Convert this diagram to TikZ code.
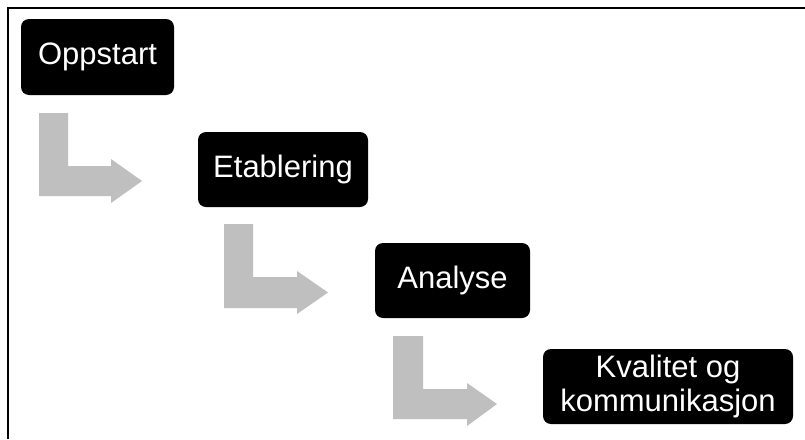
\documentclass[tikz,border=0pt]{standalone}
\usepackage{fontspec}
\setmainfont{Liberation Sans}
\definecolor{arrowgray}{HTML}{BFBFBF}
\begin{document}
\begin{tikzpicture}[x=1pt,y=-1pt,
  stepbox/.style={fill=black,rounded corners=8pt,text=white,inner sep=0pt,
    minimum height=75pt,align=center,font=\fontsize{31}{34}\selectfont},
  larrow/.style={fill=arrowgray,draw=none}]
\useasboundingbox (0,0) rectangle (805,439);
\fill[white] (0,0) rectangle (805,439);
\draw[line width=2pt] (7.5,439) -- (7.5,7.5) -- (805,7.5);

\node[stepbox,minimum width=153pt,minimum height=76pt] (s1) at (97.5,57) {Oppstart};
\node[stepbox,minimum width=170pt] (s2) at (283,169.5) {Etablering};
\node[stepbox,minimum width=155pt] (s3) at (452.5,280.5) {Analyse};
\node[stepbox,minimum width=250pt] (s4) at (668,386.5) {Kvalitet og\\kommunikasjon};

\fill[larrow] (39,113) -- (68,113) -- (68,166) -- (111,166) -- (111,159) -- (142,181) -- (111,203) -- (111,196) -- (39,196) -- cycle;
\fill[larrow] (224,224) -- (253,224) -- (253,277) -- (297,277) -- (297,271) -- (328,292.5) -- (297,314) -- (297,308) -- (224,308) -- cycle;
\fill[larrow] (393,336) -- (423,336) -- (423,389) -- (467,389) -- (467,383) -- (497,404) -- (467,426) -- (467,419) -- (393,419) -- cycle;
\end{tikzpicture}
\end{document}
